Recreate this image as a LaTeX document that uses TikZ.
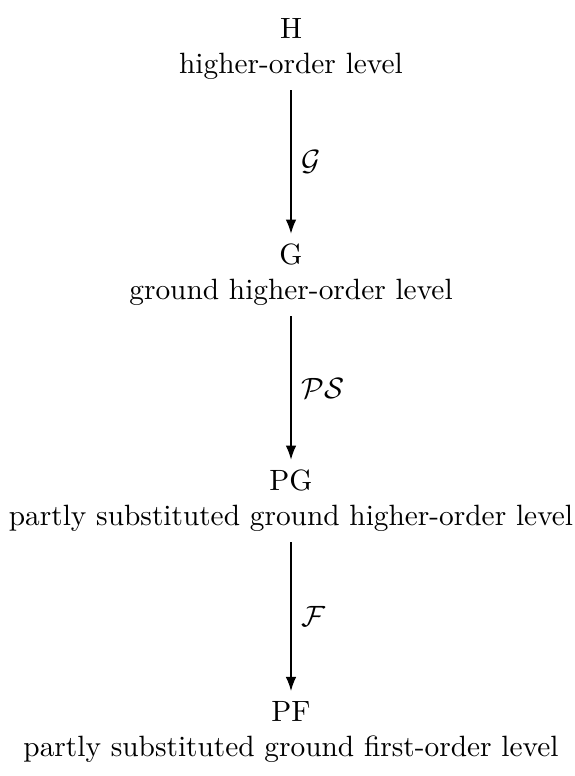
\documentclass[tikz,border=0pt]{standalone}
\usetikzlibrary{arrows.meta}
\begin{document}
\begin{tikzpicture}[x=0.3407pt,y=-0.3407pt,
  level/.style={align=center},
  conn/.style={-{Latex}},
  lab/.style={midway,right}]
\useasboundingbox (0,0) rectangle (574,776);
\node[level] (H) at (291,49) {H\\higher-order level};
\node[level] (G) at (291,275) {G\\ground higher-order level};
\node[level] (PG) at (291,501) {PG\\partly substituted ground higher-order level};
\node[level] (PF) at (291,732) {PF\\partly substituted ground first-order level};
\draw[conn] (H) -- node[lab] {$\mathcal{G}$} (G);
\draw[conn] (G) -- node[lab] {$\mathcal{PS}$} (PG);
\draw[conn] (PG) -- node[lab] {$\mathcal{F}$} (PF);
\end{tikzpicture}
\end{document}
